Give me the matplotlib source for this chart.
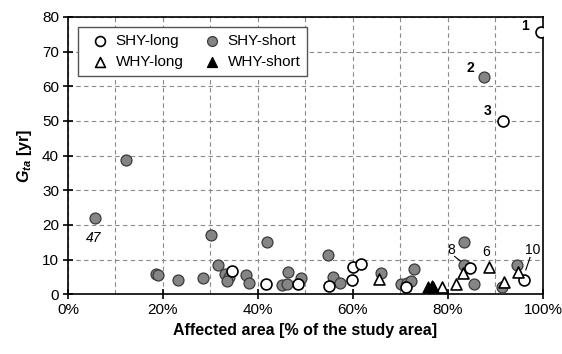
import matplotlib
matplotlib.use("Agg")
import matplotlib.pyplot as plt
from matplotlib.ticker import MultipleLocator, FuncFormatter

plt.rcParams["font.family"] = ["Liberation Sans", "DejaVu Sans"]
plt.rcParams["mathtext.fontset"] = "custom"
plt.rcParams["mathtext.it"] = "Liberation Sans:bold:italic"
plt.rcParams["mathtext.rm"] = "Liberation Sans:bold"

# affected area [%], G_ta [yr]
shy_long_x = [34.5, 41.6, 48.4, 54.9, 59.7, 60.1, 61.6, 71.2, 84.6, 96.1, 91.5, 99.7]
shy_long_y = [6.8, 2.8, 2.8, 2.5, 4.1, 7.8, 8.6, 2.1, 7.6, 4.2, 50.0, 75.8]

shy_short_x = [5.7, 12.3, 18.5, 18.9, 23.1, 28.5, 30.2, 31.5, 33.0, 33.9, 33.5, 37.4,
               38.2, 41.8, 45.1, 46.2, 46.3, 49.1, 54.7, 55.7, 57.3, 66.0, 70.2, 71.3,
               72.2, 72.8, 83.4, 83.4, 85.4, 87.6, 91.3, 94.5]
shy_short_y = [21.9, 38.7, 5.8, 5.6, 4.0, 4.6, 17.2, 8.5, 5.8, 5.0, 3.7, 5.6,
               3.1, 15.0, 2.6, 2.8, 6.5, 4.8, 11.3, 5.1, 3.3, 6.0, 2.9, 3.1,
               3.8, 7.4, 15.2, 8.4, 2.9, 62.6, 2.1, 8.4]

why_long_x = [65.4, 78.7, 81.7, 83.2, 88.6, 91.8, 94.8]
why_long_y = [4.5, 2.1, 3.0, 6.0, 7.9, 3.4, 6.3]

why_short_x = [75.9, 76.6, 76.9]
why_short_y = [2.2, 2.3, 2.0]

fig = plt.figure(figsize=(5.62, 3.54), dpi=100)
ax = fig.add_axes([0.121, 0.169, 0.845, 0.783])

ms = 62
ax.scatter(shy_short_x, shy_short_y, s=ms, marker="o", facecolor="#858585",
           edgecolor="#3a3a3a", linewidth=0.9, label="SHY-short", zorder=3)
ax.scatter(shy_long_x, shy_long_y, s=ms, marker="o", facecolor="white",
           edgecolor="black", linewidth=1.2, label="SHY-long", zorder=3)
ax.scatter(why_long_x, why_long_y, s=ms, marker="^", facecolor="white",
           edgecolor="black", linewidth=1.2, label="WHY-long", zorder=3)
ax.scatter(why_short_x, why_short_y, s=ms, marker="^", facecolor="black",
           edgecolor="black", linewidth=1.0, label="WHY-short", zorder=3)

# point labels
ax.text(5.5, 16.3, "47", fontsize=10, style="italic", ha="center", va="center")
ax.text(96.3, 77.5, "1", fontsize=10, weight="bold", ha="center", va="center")
ax.text(84.8, 65.2, "2", fontsize=10, weight="bold", ha="center", va="center")
ax.text(88.3, 52.8, "3", fontsize=10, weight="bold", ha="center", va="center")
ax.text(80.8, 12.7, "8", fontsize=10, ha="center", va="center")
ax.plot([81.4, 82.8], [10.9, 9.4], color="black", lw=0.8)
ax.text(88.1, 12.2, "6", fontsize=10, ha="center", va="center")
ax.text(97.8, 12.7, "10", fontsize=10, ha="center", va="center")
ax.plot([97.3, 96.4], [10.6, 7.0], color="black", lw=0.8)

ax.set_xlim(0, 100)
ax.set_ylim(0, 80)
ax.xaxis.set_major_locator(MultipleLocator(20))
ax.xaxis.set_minor_locator(MultipleLocator(10))
ax.yaxis.set_major_locator(MultipleLocator(10))
ax.xaxis.set_major_formatter(FuncFormatter(lambda v, p: "%d%%" % v))
ax.grid(True, which="both", linestyle=(0, (4, 3)), color="#8a8a8a", linewidth=0.8)
ax.set_axisbelow(True)
ax.tick_params(axis="both", which="major", direction="inout", length=7, width=1.2,
               labelsize=11, pad=3)
ax.tick_params(axis="x", which="minor", length=0)
for sp in ax.spines.values():
    sp.set_linewidth(1.2)

ax.set_xlabel("Affected area [% of the study area]", fontsize=11.5, weight="bold", labelpad=4)
ax.set_ylabel(r"$G_{ta}$ [yr]", fontsize=11.5, weight="bold", labelpad=6)

handles, labels = ax.get_legend_handles_labels()
order = [1, 2, 0, 3]
leg = ax.legend([handles[i] for i in order], [labels[i] for i in order], ncol=2,
                loc="upper left", bbox_to_anchor=(0.005, 0.99), fontsize=11,
                fancybox=False, edgecolor="#555555", framealpha=1,
                handletextpad=0.0, columnspacing=0.9, borderpad=0.45,
                labelspacing=0.45, markerscale=0.9)
leg.get_frame().set_linewidth(1.0)

fig.savefig("out.png", dpi=100)
